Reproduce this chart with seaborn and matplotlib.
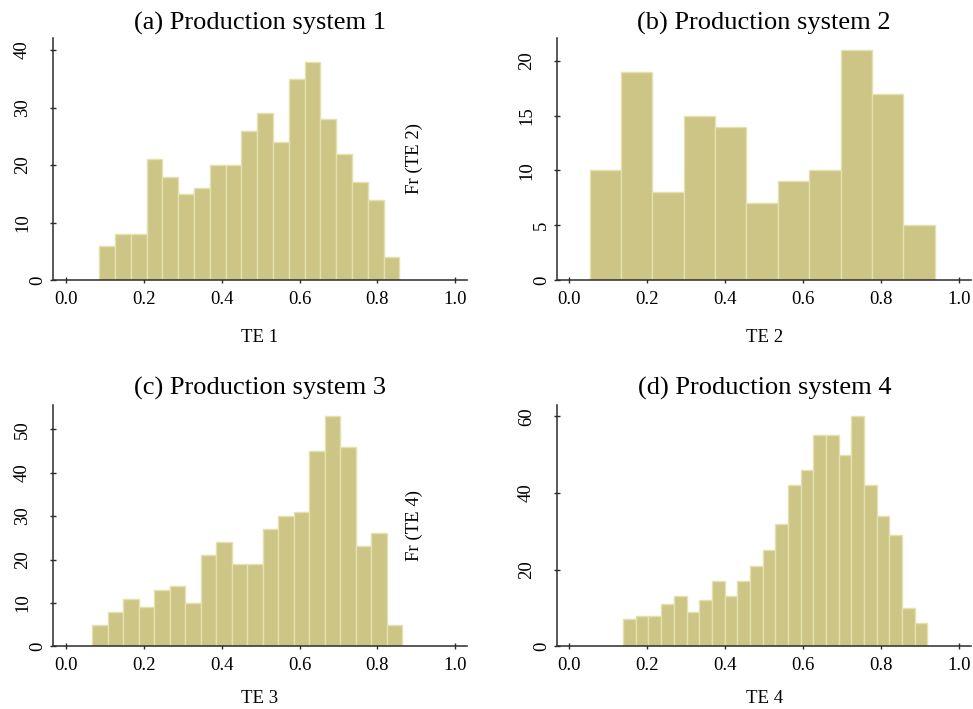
import numpy as np
import pandas as pd
import matplotlib
matplotlib.use("Agg")
import matplotlib.pyplot as plt
import seaborn as sns

# ---------------- data ----------------
titles = ["(a) Production system 1", "(b) Production system 2",
          "(c) Production system 3", "(d) Production system 4"]
xlabels = ["TE 1", "TE 2", "TE 3", "TE 4"]
ylabels = ["", "Fr (TE 2)", "", "Fr (TE 4)"]

# histogram range (first and last bin edge) per panel
bins_lo = [0.086, 0.052, 0.068, 0.138]
bins_hi = [0.856, 0.938, 0.864, 0.9195]

counts_1 = [6, 8, 8, 21, 18, 15, 16, 20, 20, 26, 29, 24, 35, 38, 28, 22, 17, 14, 4]
counts_2 = [10, 19, 8, 15, 14, 7, 9, 10, 21, 17, 5]
counts_3 = [5, 8, 11, 9, 13, 14, 10, 21, 24, 19, 19, 27, 30, 31, 45, 53, 46, 23, 26, 5]
counts_4 = [7, 8, 8, 11, 13, 9, 12, 17, 13, 17, 21, 25, 32, 42, 46, 55, 55, 50, 60,
            42, 34, 29, 10, 6]
all_counts = [counts_1, counts_2, counts_3, counts_4]

xticks = [0.0, 0.2, 0.4, 0.6, 0.8, 1.0]
xticklabels = ["0.0", "0.2", "0.4", "0.6", "0.8", "1.0"]
yticks_all = [[0, 10, 20, 30, 40], [0, 5, 10, 15, 20],
              [0, 10, 20, 30, 40, 50], [0, 20, 40, 60]]
ylims = [42.1, 22.1, 55.6, 62.95]

# ---------------- style ----------------
sns.set_style("white")
plt.rcParams["font.family"] = ["Liberation Serif", "DejaVu Serif"]
plt.rcParams["axes.unicode_minus"] = False
plt.rcParams["text.color"] = "black"
plt.rcParams["axes.labelcolor"] = "black"

bar_color = "#CCC585"
edge_color = "#E4E0B0"
axis_color = "#2b2b2b"

W, H = 973, 709
fig = plt.figure(figsize=(W / 100, H / 100), dpi=100)

# axes rectangles in pixels: (left, top, right, bottom)
rects_px = [(53.3, 38.0, 466.7, 280.0), (557.3, 38.0, 971.3, 280.0),
            (53.3, 405.0, 466.7, 646.3), (557.3, 405.0, 971.3, 646.3)]
xlims = [(-0.032, 1.029), (-0.031, 1.032), (-0.032, 1.029), (-0.031, 1.032)]
title_pads = [6, 6, 7.5, 7.5]
xlabel_pads = [15, 15, 11.5, 11.5]

for i in range(4):
    l, t, r, b = rects_px[i]
    ax = fig.add_axes([l / W, 1 - b / H, (r - l) / W, (b - t) / H])
    counts = np.array(all_counts[i], dtype=float)
    edges = np.linspace(bins_lo[i], bins_hi[i], len(counts) + 1)
    centers = (edges[:-1] + edges[1:]) / 2
    df = pd.DataFrame({"te": centers, "n": counts})
    sns.histplot(data=df, x="te", weights="n", bins=[float(e) for e in edges],
                 ax=ax, color=bar_color, edgecolor=edge_color, linewidth=1.0,
                 alpha=1.0, stat="count")

    ax.set_xlim(*xlims[i])
    ax.set_ylim(0, ylims[i])
    ax.set_xticks(xticks)
    ax.set_xticklabels(xticklabels)
    ax.set_yticks(yticks_all[i])
    ax.set_yticklabels([str(v) for v in yticks_all[i]])

    for s in ["top", "right"]:
        ax.spines[s].set_visible(False)
    for s in ["left", "bottom"]:
        ax.spines[s].set_color(axis_color)
        ax.spines[s].set_linewidth(1.1)

    ax.tick_params(axis="both", direction="inout", length=5, width=1.0,
                   color=axis_color, labelsize=13.5, labelcolor="black",
                   bottom=True, left=True)
    ax.tick_params(axis="x", pad=5.5)
    ax.tick_params(axis="y", labelrotation=90)
    for tk, v in zip(ax.yaxis.get_major_ticks(), yticks_all[i]):
        tk.set_pad(2.5 if len(str(v)) == 1 else 13.5)
    for lbl in ax.get_yticklabels():
        lbl.set_va("center")

    ax.set_title(titles[i], fontsize=19, pad=title_pads[i], color="black")
    ax.set_xlabel(xlabels[i], fontsize=13.5, labelpad=xlabel_pads[i])
    if ylabels[i]:
        ax.set_ylabel(ylabels[i], fontsize=13.5)
        ax.yaxis.set_label_coords(-0.325, 0.5)
    else:
        ax.set_ylabel("")
    ax.grid(False)

fig.savefig("out.png", dpi=100)
